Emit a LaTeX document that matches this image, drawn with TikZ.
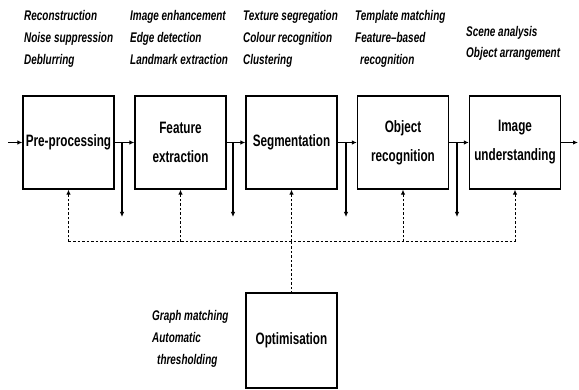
\documentclass[tikz,border=0pt]{standalone}
\usepackage{fontspec}
\setmainfont{Liberation Sans}
\newfontfamily\labfont[FakeStretch=0.71]{Liberation Sans}
\usetikzlibrary{arrows.meta}
\begin{document}
\begin{tikzpicture}[x=1pt,y=-1pt,
 blk/.style={draw,line width=1.3pt,minimum width=91pt,minimum height=93pt,inner sep=0pt,align=center,font=\labfont\bfseries\fontsize{16.5}{29}\selectfont},
 lab/.style={anchor=base west,inner sep=0pt,font=\labfont\bfseries\itshape\fontsize{14}{22}\selectfont},
 arr/.style={line width=1.2pt,-{Latex[length=5pt,width=4.5pt]}},
 fb/.style={line width=1pt,dash pattern=on 2.5pt off 2pt}]
\useasboundingbox (0,0) rectangle (579,390);
% boxes
\node[blk] (pre) at (68.5,142.5) {Pre-processing};
\node[blk] (fe) at (180.5,142.5) {Feature\\extraction};
\node[blk] (seg) at (291.5,142.5) {Segmentation};
\node[blk] (obj) at (403,142.5) {Object\\recognition};
\node[blk] (iu) at (515,142.5) {Image\\understanding};
\node[blk,minimum height=95pt] (opt) at (291.5,340.5) {Optimisation};
% main flow
\coordinate (in) at (8,142.5);
\coordinate (out) at (578,142.5);
\draw[arr] (in) -- (pre.west);
\draw[arr] (pre.east) -- (fe.west);
\draw[arr] (fe.east) -- (seg.west);
\draw[arr] (seg.east) -- (obj.west);
\draw[arr] (obj.east) -- (iu.west);
\draw[arr] (iu.east) -- (out);
% branches
\coordinate (b1) at (122,142.5); \coordinate (b1e) at (122,217);
\coordinate (b2) at (233,142.5); \coordinate (b2e) at (233,217);
\coordinate (b3) at (346,142.5); \coordinate (b3e) at (346,217);
\coordinate (b4) at (457,142.5); \coordinate (b4e) at (457,217);
\draw[arr] (b1) -- (b1e);
\draw[arr] (b2) -- (b2e);
\draw[arr] (b3) -- (b3e);
\draw[arr] (b4) -- (b4e);
% feedback
\coordinate (dl) at (0,242);
\draw[fb] (pre.south |- dl) -- (iu.south |- dl);
\foreach \n in {pre,fe,seg,obj,iu}
  \draw[fb,-{Latex[length=5pt,width=4.5pt]}] (\n.south |- dl) -- (\n.south);
\draw[fb] (seg.south |- dl) -- (opt.north);
% labels
\node[lab] (l1a) at (24,21) {Reconstruction};
\node[lab] (l1b) at (24,43) {Noise suppression};
\node[lab] (l1c) at (24,65) {Deblurring};
\node[lab] (l2a) at (130,21) {Image enhancement};
\node[lab] (l2b) at (130,43) {Edge detection};
\node[lab] (l2c) at (130,65) {Landmark extraction};
\node[lab] (l3a) at (243,21) {Texture segregation};
\node[lab] (l3b) at (243,43) {Colour recognition};
\node[lab] (l3c) at (243,65) {Clustering};
\node[lab] (l4a) at (355,21) {Template matching};
\node[lab] (l4b) at (355,43) {Feature–based};
\node[lab] (l4c) at (360,65) {recognition};
\node[lab] (l5a) at (466,37) {Scene analysis};
\node[lab] (l5b) at (466,58) {Object arrangement};
\node[lab] (l6a) at (152,321) {Graph matching};
\node[lab] (l6b) at (152,343) {Automatic};
\node[lab] (l6c) at (157,365) {thresholding};
\end{tikzpicture}
\end{document}
